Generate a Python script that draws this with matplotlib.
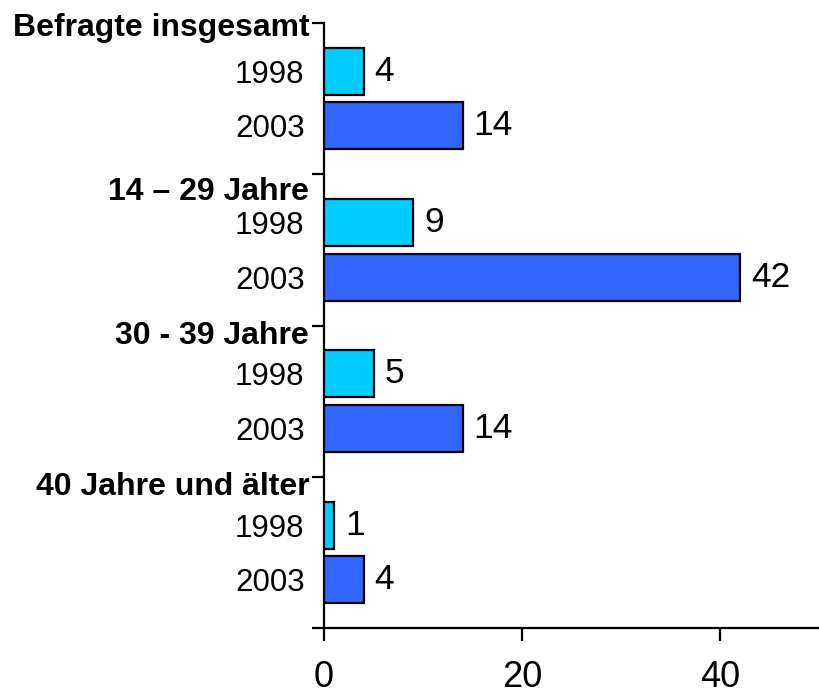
import matplotlib
matplotlib.use("Agg")
import matplotlib.pyplot as plt

plt.rcParams['font.family'] = ['Liberation Sans', 'DejaVu Sans']

groups = ["Befragte insgesamt", "14 – 29 Jahre", "30 - 39 Jahre", "40 Jahre und älter"]
years = ["1998", "2003"]
values_1998 = [4, 9, 5, 1]
values_2003 = [14, 42, 14, 4]
xticks = [0, 20, 40]

colors = {"1998": "#00CCFF", "2003": "#3366FF"}
offsets = {"1998": 0.32, "2003": 0.68}
bar_h = 0.31
group_label_dy = [0.03, 0.12, 0.07, 0.07]  # label centre below group tick, in group units

W, H = 819, 699
fig = plt.figure(figsize=(W / 100, H / 100), dpi=100)
ax = fig.add_axes([324 / W, 71 / H, (819 - 324) / W, (628 - 23) / H])

ng = len(groups)
for yr, vals in zip(years, [values_1998, values_2003]):
    ys = [g + offsets[yr] for g in range(ng)]
    bars = ax.barh(ys, vals, height=bar_h, color=colors[yr], edgecolor="black", linewidth=1.6, zorder=3)
    for b, v in zip(bars, vals):
        ax.annotate(str(v), xy=(b.get_width(), b.get_y() + b.get_height() / 2),
                    xytext=(8, 0), textcoords="offset points", va="center", ha="left",
                    fontsize=25.5, color="black")

ax.set_xlim(0, 50)
ax.set_ylim(ng, 0)

# major y ticks at group boundaries, no labels
ax.set_yticks(list(range(ng + 1)))
ax.set_yticklabels([""] * (ng + 1))
ax.tick_params(axis="y", which="major", direction="out", length=9, width=1.6)

# minor ticks carry year labels
minor_pos = []
minor_lab = []
for g in range(ng):
    for yr in years:
        minor_pos.append(g + offsets[yr])
        minor_lab.append(yr)
ax.set_yticks(minor_pos, minor=True)
ax.set_yticklabels(minor_lab, minor=True, fontsize=22.5)
ax.tick_params(axis="y", which="minor", length=0, pad=14)

ax.set_xticks(xticks)
ax.set_xticklabels([str(t) for t in xticks], fontsize=26)
ax.tick_params(axis="x", direction="out", length=9, width=1.6, pad=14)

for s in ["top", "right"]:
    ax.spines[s].set_visible(False)
for s in ["left", "bottom"]:
    ax.spines[s].set_linewidth(1.6)

for g, name in enumerate(groups):
    ax.text(-0.03, g + group_label_dy[g], name, transform=ax.get_yaxis_transform(),
            ha="right", va="center", fontsize=23, fontweight="bold")

fig.savefig("out.png", dpi=100)
